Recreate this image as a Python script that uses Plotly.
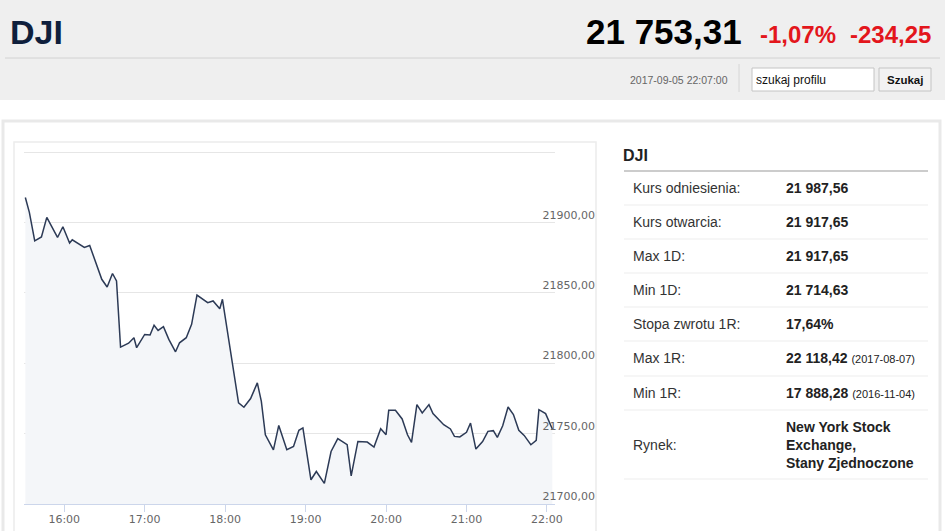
import plotly.graph_objects as go

# -------------------- Data -------------------- #
DAY = "2017-09-05 "
times = ["15:31", "15:34", "15:38", "15:43", "15:47", "15:55", "15:59", "16:04", "16:06", "16:15",
         "16:19", "16:28", "16:32", "16:36", "16:39", "16:42", "16:48", "16:52", "16:54", "17:00",
         "17:04", "17:07", "17:10", "17:14", "17:18", "17:23", "17:26", "17:31", "17:35", "17:39",
         "17:47", "17:51", "17:56", "17:58", "18:10", "18:14", "18:19", "18:24", "18:27", "18:30",
         "18:36", "18:40", "18:46", "18:51", "18:55", "18:58", "19:04", "19:08", "19:14", "19:19",
         "19:24", "19:31", "19:34", "19:39", "19:46", "19:51", "19:56", "20:00", "20:02", "20:07",
         "20:12", "20:16", "20:19", "20:23", "20:27", "20:32", "20:35", "20:43", "20:48", "20:51",
         "20:55", "21:00", "21:03", "21:07", "21:12", "21:16", "21:20", "21:23", "21:27", "21:31",
         "21:35", "21:39", "21:43", "21:48", "21:52", "21:54", "21:59", "22:02", "22:04"]
prices = [21917.65, 21907.1, 21886.9, 21889.7, 21903.6, 21889.3, 21896.9, 21885.3, 21887.6, 21882.2,
          21883.6, 21859.6, 21854.1, 21863.7, 21858.4, 21811.4, 21814.2, 21818.1, 21811.0, 21820.4,
          21820.0, 21826.9, 21823.3, 21825.9, 21816.9, 21808.1, 21814.5, 21818.1, 21827.6, 21848.4,
          21843.0, 21844.2, 21838.7, 21845.4, 21771.8, 21768.7, 21774.9, 21786.0, 21772.9, 21749.2,
          21738.5, 21755.8, 21738.5, 21740.9, 21752.3, 21754.0, 21717.2, 21723.1, 21714.63, 21737.3,
          21746.4, 21742.1, 21720.0, 21744.4, 21744.0, 21740.5, 21753.5, 21749.2, 21766.5, 21766.5,
          21760.4, 21749.2, 21743.7, 21770.6, 21764.7, 21770.6, 21764.2, 21756.3, 21753.3, 21748.0,
          21747.6, 21750.9, 21757.5, 21739.0, 21744.4, 21751.6, 21752.1, 21747.3, 21755.6, 21768.9,
          21763.5, 21752.3, 21748.7, 21742.1, 21745.2, 21767.0, 21764.2, 21757.5, 21753.31]

y_ticks = [21700, 21750, 21800, 21850, 21900, 21950]
y_ticktext = ["21700,00", "21750,00", "21800,00", "21850,00", "21900,00", ""]

ticker = "DJI"
last_price = "21 753,31"
change_pct = "-1,07%"
change_abs = "-234,25"
quote_time = "2017-09-05 22:07:00"

table_labels = ["Kurs odniesienia:", "Kurs otwarcia:", "Max 1D:", "Min 1D:",
                "Stopa zwrotu 1R:", "Max 1R:", "Min 1R:", "Rynek:"]
table_values = ["21 987,56", "21 917,65", "21 917,65", "21 714,63",
                "17,64%", "22 118,42", "17 888,28", "New York Stock<br>Exchange,<br>Stany Zjednoczone"]
table_notes = ["", "", "", "", "", "(2017-08-07)", "(2016-11-04)", ""]

# -------------------- Page geometry (pixels) -------------------- #
W, H = 945, 531


def px(x):
    return x / W


def py(y):
    return 1 - y / H


row_mid = [188, 222, 256, 290, 324, 358, 393, 445]
row_lines = [205, 239, 273, 307, 341, 376, 410, 479]

# -------------------- Chart -------------------- #
fig = go.Figure()
fig.add_trace(go.Scatter(
    x=[DAY + t for t in times], y=prices, mode="lines",
    line=dict(color="#2c3a56", width=1.5),
    fill="tozeroy", fillcolor="#f4f6f9",
    hoverinfo="skip", showlegend=False,
))

shapes = []
# header strip
shapes.append(dict(type="rect", xref="paper", yref="paper", x0=0, x1=1, y0=py(100), y1=1,
                   fillcolor="#efefef", line=dict(width=0), layer="below"))
shapes.append(dict(type="line", xref="paper", yref="paper", x0=px(5), x1=px(940), y0=py(58), y1=py(58),
                   line=dict(color="#d2d2d2", width=1)))
shapes.append(dict(type="line", xref="paper", yref="paper", x0=px(739), x1=px(739), y0=py(64), y1=py(92),
                   line=dict(color="#d6d6d6", width=1)))
# search box + button
shapes.append(dict(type="rect", xref="paper", yref="paper", x0=px(752), x1=px(874), y0=py(91), y1=py(68),
                   fillcolor="white", line=dict(color="#c4c4c4", width=1)))
shapes.append(dict(type="rect", xref="paper", yref="paper", x0=px(879), x1=px(931), y0=py(91), y1=py(68),
                   fillcolor="#f2f2f2", line=dict(color="#c4c4c4", width=1)))
# content boxes
shapes.append(dict(type="rect", xref="paper", yref="paper", x0=px(3), x1=px(940), y0=py(545), y1=py(121),
                   line=dict(color="#e9e9e9", width=3), layer="below"))
shapes.append(dict(type="rect", xref="paper", yref="paper", x0=px(14), x1=px(596), y0=py(545), y1=py(142),
                   line=dict(color="#ececec", width=1.5), layer="below"))
# top grid line of the chart (plotly leaves it out at the range end)
shapes.append(dict(type="line", xref="x domain", yref="y", x0=0, x1=1, y0=y_ticks[-1], y1=y_ticks[-1],
                   line=dict(color="#e6e6e6", width=2), layer="below"))
# table lines
shapes.append(dict(type="line", xref="paper", yref="paper", x0=px(624), x1=px(928), y0=py(171), y1=py(171),
                   line=dict(color="#999999", width=1)))
for yl in row_lines:
    shapes.append(dict(type="line", xref="paper", yref="paper", x0=px(624), x1=px(928), y0=py(yl), y1=py(yl),
                       line=dict(color="#ededed", width=1)))

annotations = []


def text(x, y, s, size, color, anchor="left", bold=False, family="Liberation Sans, Arial, sans-serif"):
    if bold:
        s = "<b>" + s + "</b>"
    annotations.append(dict(xref="paper", yref="paper", x=px(x), y=py(y), text=s, showarrow=False,
                            xanchor=anchor, yanchor="middle", align="left",
                            font=dict(size=size, color=color, family=family)))


# header texts
text(8, 32, ticker, 34, "#0f1f3c", bold=True)
text(744, 32, last_price, 35, "#000000", anchor="right", bold=True)
text(838, 34, change_pct, 24, "#e3161c", anchor="right", bold=True)
text(933, 34, change_abs, 24, "#e3161c", anchor="right", bold=True)
text(730, 80, quote_time, 10.5, "#666666", anchor="right")
text(754, 80, "szukaj profilu", 12, "#111111")
text(905, 80, "Szukaj", 11.5, "#111111", anchor="center", bold=True)

# side table
text(621, 156, ticker, 16, "#222222", bold=True)
for lab, val, note, ym in zip(table_labels, table_values, table_notes, row_mid):
    text(631, ym, lab, 14, "#333333")
    s = "<b>" + val + "</b>"
    if note:
        s += " <span style='font-size:11px'>" + note + "</span>"
    text(784, ym, s, 14, "#222222")

fig.update_layout(
    width=W, height=H, autosize=False,
    margin=dict(l=0, r=0, t=0, b=0, autoexpand=False),
    paper_bgcolor="white", plot_bgcolor="white",
    showlegend=False, hovermode=False,
    shapes=shapes, annotations=annotations,
    xaxis=dict(
        domain=[px(24), px(555)], type="date", automargin=False,
        range=[DAY + "15:30", DAY + "22:06"],
        tick0=DAY + "16:00", dtick=3600000, tickformat="%H:%M",
        ticks="outside", ticklen=7, tickcolor="#ccd6eb",
        showline=True, linecolor="#ccd6eb", linewidth=1,
        showgrid=False, zeroline=False, ticklabeloverflow="allow", ticklabelstandoff=-2,
        tickfont=dict(family="DejaVu Sans", size=11, color="#666666"),
        fixedrange=True,
    ),
    yaxis=dict(
        domain=[py(504), py(152)], range=[21700, 21950], automargin=False,
        side="right", tickvals=y_ticks, ticktext=y_ticktext,
        ticklabelposition="inside top", ticklabelstandoff=-43, ticklabeloverflow="allow",
        gridcolor="#e6e6e6", gridwidth=1, showline=False, zeroline=False, ticks="",
        tickfont=dict(family="DejaVu Sans", size=11, color="#666666"),
        fixedrange=True,
    ),
)

fig.write_html("out.html", config={"displayModeBar": False, "responsive": False},
               post_script="document.body.style.margin='0';document.body.style.overflow='hidden';")
